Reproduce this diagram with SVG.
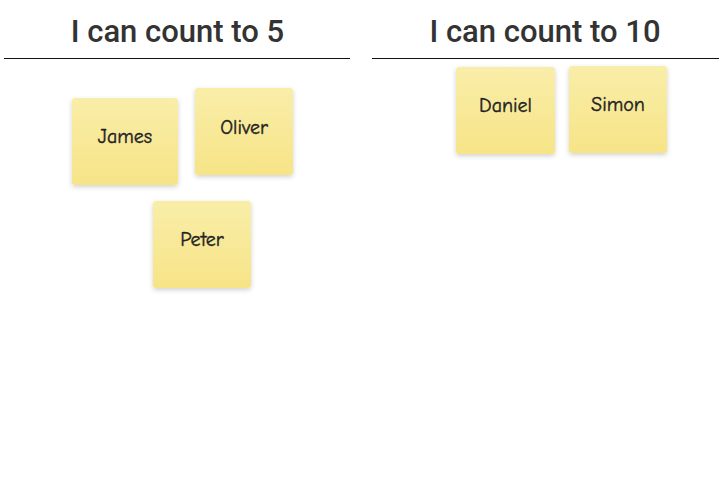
<svg xmlns="http://www.w3.org/2000/svg" width="727" height="481" viewBox="0 0 727 481">
<style>
.title{font-family:Roboto,"Liberation Sans",Arial,sans-serif;font-weight:500;font-size:31px;fill:#333;text-anchor:middle}
.rule{stroke:#111;stroke-width:1.2}
.note rect{fill:url(#ng);filter:url(#sh)}
.note text{font-family:"Comic Neue","Noto Sans","DejaVu Sans",sans-serif;font-weight:400;font-size:20px;fill:#222;stroke:#222;stroke-width:0.4;text-anchor:middle}
</style>
<defs>
<linearGradient id="ng" x1="0" y1="0" x2="0" y2="1">
<stop offset="0" stop-color="#f9eea9"/>
<stop offset="1" stop-color="#f7e487"/>
</linearGradient>
<filter id="sh" x="-20%" y="-20%" width="140%" height="150%">
<feDropShadow dx="0" dy="2" stdDeviation="2.5" flood-color="#000" flood-opacity="0.18"/>
</filter>
</defs>
<rect width="727" height="481" fill="#fff"/>
<g id="headers">
<text class="title" x="177.5" y="42">I can count to 5</text>
<line class="rule" x1="4" y1="58.5" x2="350" y2="58.5"/>
<text class="title" x="545" y="42">I can count to 10</text>
<line class="rule" x1="372" y1="58.5" x2="719" y2="58.5"/>
</g>
<g id="connectors"></g>
<g id="james" class="note"><rect x="72" y="98" width="106" height="87" rx="3"/><text x="125" y="143">James</text></g>
<g id="oliver" class="note"><rect x="195" y="88" width="98" height="87" rx="3"/><text x="244" y="134">Oliver</text></g>
<g id="peter" class="note"><rect x="153" y="201" width="98" height="87" rx="3"/><text x="202" y="246">Peter</text></g>
<g id="daniel" class="note"><rect x="456" y="67" width="99" height="87" rx="3"/><text x="505.5" y="112">Daniel</text></g>
<g id="simon" class="note"><rect x="569" y="66" width="98" height="87" rx="3"/><text x="618" y="111">Simon</text></g>
</svg>
